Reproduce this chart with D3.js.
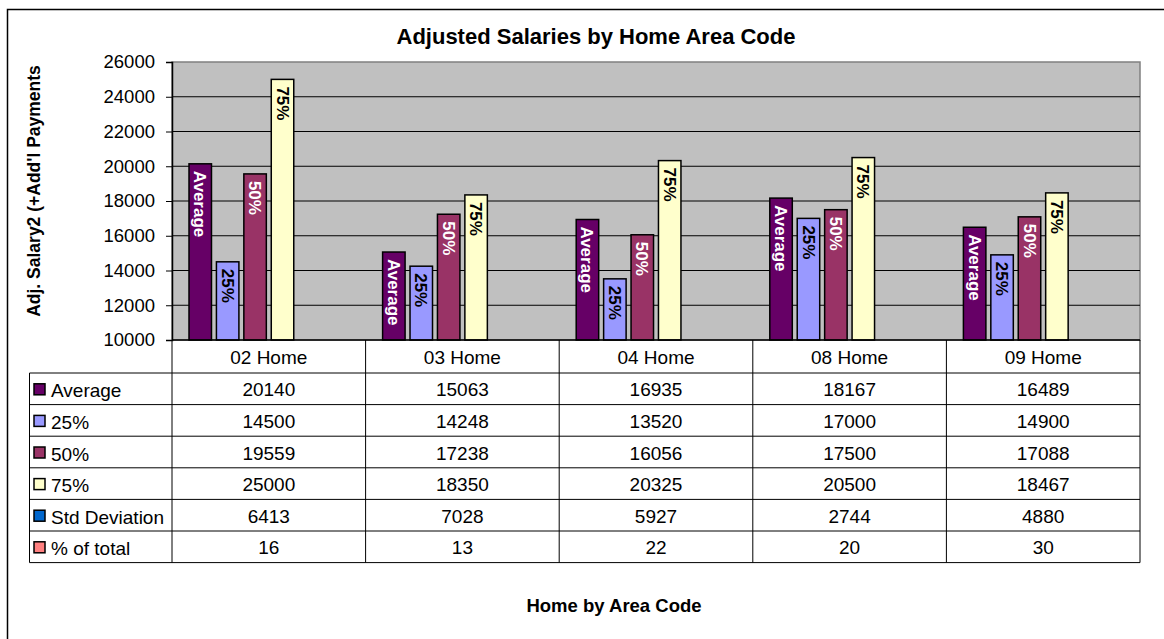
<html>
<head>
<script src="https://d3js.org/d3.v7.min.js"></script>
<style>
    body { margin: 0; background: #fff; }
    svg { font-family: "Liberation Sans", Arial, sans-serif; }
    .grid line { stroke: #000; stroke-width: 1px; }
    .cell-text { font-size: 19px; fill: #000; }
    .bar { stroke: #000; stroke-width: 1.5px; }
</style>
</head>
<body>
<svg id="chart" width="1164" height="639"></svg>
<script>
    // data
    var categories = ['02 Home', '03 Home', '04 Home', '08 Home', '09 Home'];
    var seriesNames = ['Average', '25%', '50%', '75%', 'Std Deviation', '% of total'];
    var average  = [20140, 15063, 16935, 18167, 16489];
    var p25      = [14500, 14248, 13520, 17000, 14900];
    var p50      = [19559, 17238, 16056, 17500, 17088];
    var p75      = [25000, 18350, 20325, 20500, 18467];
    var stdDev   = [6413, 7028, 5927, 2744, 4880];
    var pctTotal = [16, 13, 22, 20, 30];
    var yTicks = [10000, 12000, 14000, 16000, 18000, 20000, 22000, 24000, 26000];
    var barLabels = ['Average', '25%', '50%', '75%', '', ''];

    var seriesValues = [average, p25, p50, p75, stdDev, pctTotal];
    var colors = ['#660066', '#9999ff', '#993366', '#ffffcc', '#0066cc', '#ff8080'];
    var labelColors = ['#ffffff', '#000000', '#ffffff', '#000000', '#000', '#000'];

    var svg = d3.select('#chart');

    // outer chart frame (runs off the picture at right and bottom)
    svg.append('rect')
        .attr('x', 7.5).attr('y', 9.5)
        .attr('width', 1300).attr('height', 800)
        .attr('fill', '#fff').attr('stroke', '#000').attr('stroke-width', 1.5);

    var plot = { left: 172, top: 62, right: 1140, bottom: 340 };

    var y = d3.scaleLinear()
        .domain([yTicks[0], yTicks[yTicks.length - 1]])
        .range([plot.bottom, plot.top]);

    var x0 = d3.scaleBand()
        .domain(categories)
        .range([plot.left, plot.right]);

    var x1 = d3.scaleBand()
        .domain(seriesNames)
        .range([0, x0.bandwidth()])
        .paddingInner(0.18)
        .paddingOuter(0.62);

    // plot background
    svg.append('rect')
        .attr('x', plot.left).attr('y', plot.top)
        .attr('width', plot.right - plot.left).attr('height', plot.bottom - plot.top)
        .attr('fill', '#c0c0c0').attr('stroke', '#808080').attr('stroke-width', 1.5);

    // gridlines
    svg.append('g').attr('class', 'grid')
        .selectAll('line')
        .data(yTicks.slice(1, -1))
        .enter().append('line')
        .attr('x1', plot.left).attr('x2', plot.right)
        .attr('y1', function(d) { return y(d); })
        .attr('y2', function(d) { return y(d); });

    // y axis
    var yAxis = svg.append('g')
        .attr('transform', 'translate(' + plot.left + ',0)')
        .call(d3.axisLeft(y).tickValues(yTicks).tickFormat(d3.format('d')).tickSize(6).tickPadding(11));
    yAxis.select('.domain').attr('stroke', '#000').attr('stroke-width', 1.5);
    yAxis.selectAll('.tick line').attr('stroke', '#000');
    yAxis.selectAll('text')
        .attr('font-family', '"Liberation Sans", Arial, sans-serif')
        .attr('font-size', '18.5px').attr('fill', '#000');

    // bars
    var barData = [];
    categories.forEach(function(c, ci) {
        seriesNames.forEach(function(s, si) {
            barData.push({ cat: c, series: s, si: si, value: seriesValues[si][ci] });
        });
    });
    // Std Deviation and % of total sit below the axis minimum, so they never show
    var visible = barData.filter(function(d) { return d.value > y.domain()[0]; });

    var bars = svg.append('g');
    bars.selectAll('rect')
        .data(visible)
        .enter().append('rect')
        .attr('class', 'bar')
        .attr('x', function(d) { return x0(d.cat) + x1(d.series); })
        .attr('y', function(d) { return y(d.value); })
        .attr('width', x1.bandwidth())
        .attr('height', function(d) { return y.range()[0] - y(d.value); })
        .attr('fill', function(d) { return colors[d.si]; });

    bars.selectAll('text')
        .data(visible)
        .enter().append('text')
        .attr('transform', function(d) {
            var cx = x0(d.cat) + x1(d.series) + x1.bandwidth() / 2;
            return 'translate(' + cx + ',' + (y(d.value) + 7) + ') rotate(90)';
        })
        .attr('dy', '0.35em')
        .attr('font-size', '17px')
        .attr('font-weight', 'bold')
        .attr('fill', function(d) { return labelColors[d.si]; })
        .text(function(d) { return barLabels[d.si]; });

    // category axis line
    svg.append('line')
        .attr('x1', plot.left).attr('x2', plot.right)
        .attr('y1', plot.bottom).attr('y2', plot.bottom)
        .attr('stroke', '#000').attr('stroke-width', 1.5);

    // data table
    var headerBottom = 373;
    var rowH = 31.6;
    var tableLeft = 29.5;
    var tableBottom = headerBottom + rowH * seriesNames.length;
    var table = svg.append('g');

    // column dividers
    var colEdges = categories.map(function(c) { return x0(c); }).concat([plot.right]);
    table.selectAll('line.col')
        .data(colEdges)
        .enter().append('line')
        .attr('x1', function(d) { return d; }).attr('x2', function(d) { return d; })
        .attr('y1', plot.bottom).attr('y2', tableBottom)
        .attr('stroke', '#000').attr('stroke-width', 1);

    table.append('line')
        .attr('x1', tableLeft).attr('x2', tableLeft)
        .attr('y1', headerBottom).attr('y2', tableBottom)
        .attr('stroke', '#000').attr('stroke-width', 1);

    // row lines
    var rowEdges = d3.range(seriesNames.length + 1).map(function(i) { return headerBottom + i * rowH; });
    table.selectAll('line.row')
        .data(rowEdges)
        .enter().append('line')
        .attr('x1', tableLeft).attr('x2', plot.right)
        .attr('y1', function(d) { return d; }).attr('y2', function(d) { return d; })
        .attr('stroke', '#000').attr('stroke-width', 1);

    // header
    table.selectAll('text.head')
        .data(categories)
        .enter().append('text')
        .attr('class', 'cell-text')
        .attr('x', function(d) { return x0(d) + x0.bandwidth() / 2; })
        .attr('y', (plot.bottom + headerBottom) / 2 + 1)
        .attr('dy', '0.35em')
        .attr('text-anchor', 'middle')
        .text(function(d) { return d; });

    // legend keys + names
    var rows = table.selectAll('g.row')
        .data(seriesNames)
        .enter().append('g')
        .attr('transform', function(d, i) { return 'translate(0,' + (headerBottom + i * rowH + rowH / 2) + ')'; });

    rows.append('rect')
        .attr('x', 34).attr('y', -5)
        .attr('width', 11).attr('height', 11)
        .attr('fill', function(d, i) { return colors[i]; })
        .attr('stroke', '#000').attr('stroke-width', 1.5);

    rows.append('text')
        .attr('class', 'cell-text')
        .attr('x', 51).attr('y', 2)
        .attr('dy', '0.35em')
        .text(function(d) { return d; });

    rows.each(function(s, si) {
        d3.select(this).selectAll('text.val')
            .data(seriesValues[si])
            .enter().append('text')
            .attr('class', 'cell-text')
            .attr('x', function(d, ci) { return x0(categories[ci]) + x0.bandwidth() / 2; })
            .attr('y', 1)
            .attr('dy', '0.35em')
            .attr('text-anchor', 'middle')
            .text(function(d) { return d; });
    });

    // titles
    svg.append('text')
        .attr('x', 596).attr('y', 44)
        .attr('text-anchor', 'middle')
        .attr('font-size', '22px').attr('font-weight', 'bold')
        .text('Adjusted Salaries by Home Area Code');

    svg.append('text')
        .attr('transform', 'translate(40,191) rotate(-90)')
        .attr('text-anchor', 'middle')
        .attr('font-size', '17.5px').attr('font-weight', 'bold')
        .text("Adj. Salary2 (+Add'l Payments");

    svg.append('text')
        .attr('x', 614).attr('y', 612)
        .attr('text-anchor', 'middle')
        .attr('font-size', '18.5px').attr('font-weight', 'bold')
        .text('Home by Area Code');
</script>
</body>
</html>
